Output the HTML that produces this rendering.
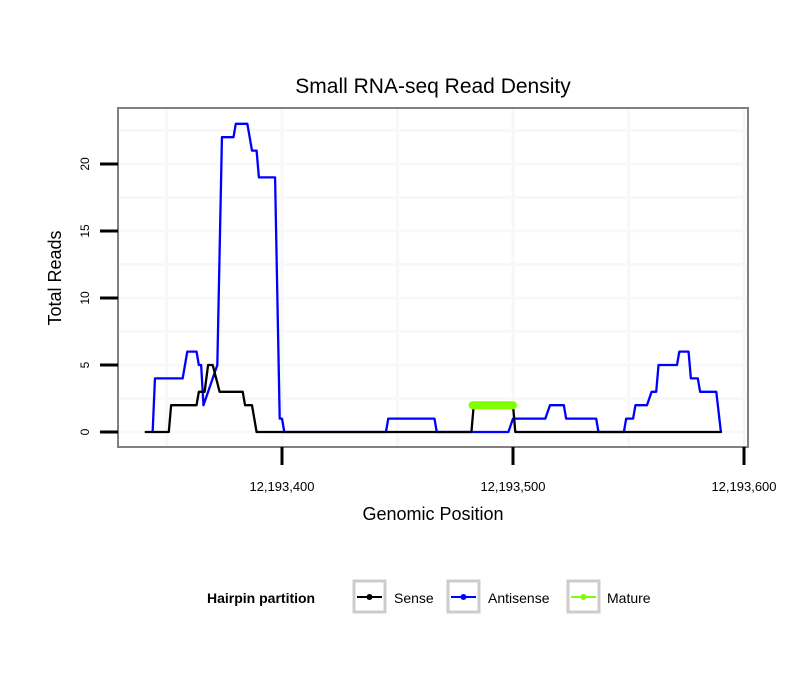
<!DOCTYPE html>
<html><head><meta charset="utf-8"><style>
body{margin:0;background:#fff;font-family:"Liberation Sans",sans-serif}
</style></head><body>
<svg id="chart" width="810" height="690" xmlns="http://www.w3.org/2000/svg" font-family="Liberation Sans, sans-serif">
<rect width="810" height="690" fill="#fff"/>
<text x="433" y="93" font-size="21" text-anchor="middle">Small RNA-seq Read Density</text>
<g id="grid"></g>
<g id="series"></g>
<rect x="118" y="108" width="630" height="339" fill="none" stroke="#808080" stroke-width="2"/>
<g id="axes"></g>
<text x="433" y="520" font-size="18" text-anchor="middle">Genomic Position</text>
<text transform="translate(61,278) rotate(-90)" font-size="18" text-anchor="middle">Total Reads</text>
<g>
<text x="207" y="603" font-size="14" font-weight="bold">Hairpin partition</text>
<g>
<rect x="354" y="581" width="31" height="31" fill="#fff" stroke="#ccc" stroke-width="3"/>
<line x1="357" y1="597" x2="382" y2="597" stroke="#000" stroke-width="2"/><circle cx="369.5" cy="597" r="3" fill="#000"/>
<text x="394" y="603" font-size="14">Sense</text></g>
<g>
<rect x="448" y="581" width="31" height="31" fill="#fff" stroke="#ccc" stroke-width="3"/>
<line x1="451" y1="597" x2="476" y2="597" stroke="#0000ff" stroke-width="2"/><circle cx="463.5" cy="597" r="3" fill="#0000ff"/>
<text x="488" y="603" font-size="14">Antisense</text></g>
<g>
<rect x="568" y="581" width="31" height="31" fill="#fff" stroke="#ccc" stroke-width="3"/>
<line x1="571" y1="597" x2="596" y2="597" stroke="#7fff00" stroke-width="2"/><circle cx="583.5" cy="597" r="3" fill="#7fff00"/>
<text x="607" y="603" font-size="14">Mature</text></g>
</g>
</svg>
<script>
const xBase = 12193400;
const xTicks = [0, 100, 200];
const xTickLabels = ["12,193,400", "12,193,500", "12,193,600"];
const yTicks = [0, 5, 10, 15, 20];
const antisensePos = [-56,-55,-43,-41,-37,-36,-35,-34,-28,-26,-21,-20,-15,-13,-11,-10,-3,-1,0,1,45,46,66,67,98,100,114,116,122,123,136,137,148,149,152,153,158,160,162,163,171,172,176,177,180,181,188,190];
const antisenseVal = [0,4,4,6,6,5,5,2,5,22,22,23,23,21,21,19,19,1,1,0,0,1,1,0,0,1,1,2,2,1,1,0,0,1,1,2,2,3,3,5,5,6,6,4,4,3,3,0];
const sensePos = [-59,-49,-48,-37,-36,-33.5,-32,-30,-28.5,-27,-17,-16,-13,-11,82,83,100,101,190];
const senseVal = [0,0,2,2,3,3,5,5,4,3,3,2,2,0,0,2,2,0,0];
const maturePos = [82.5, 100];
const matureVal = [2, 2];

const xs = v => 282 + v * 2.31;
const ys = v => 432 - v * 13.4;
const NS = "http://www.w3.org/2000/svg";
function mk(tag, attrs, parent){const e=document.createElementNS(NS,tag);for(const k in attrs)e.setAttribute(k,attrs[k]);parent.appendChild(e);return e;}
const grid=document.getElementById('grid'), series=document.getElementById('series'), axes=document.getElementById('axes');
for(let v=-50; v<=200; v+=50){
  const x=xs(v); if(x<118||x>748) continue;
  const l=mk('line',{x1:x,x2:x,y1:109,y2:446,stroke:'#f7f7f7','stroke-width':3},grid);
  
  
}
for(let v=0; v<=25; v+=2.5){
  const y=ys(v); if(y<108||y>447) continue;
  const l=mk('line',{x1:119,x2:747,y1:y,y2:y,stroke:'#f8f8f8','stroke-width':3},grid);
  
  
}
function path(pos,val,color,w,name){
  const d=pos.map((p,i)=>(i?'L':'M')+xs(p)+','+ys(val[i])).join('');
  const e=mk('path',{d:d,fill:'none',stroke:color,'stroke-width':w,'stroke-linejoin':'round','stroke-linecap':'round'},series);
  
  
}
path(antisensePos,antisenseVal,'#0000ff',2.3,'antisense-line');
path(sensePos,senseVal,'#000',2.3,'sense-line');
path(maturePos,matureVal,'#7fff00',8,'mature-line');
yTicks.forEach(v=>{
  const y=ys(v);
  const t=mk('line',{x1:100,x2:118,y1:y,y2:y,stroke:'#000','stroke-width':3},axes);
  
  
  const tx=mk('text',{transform:`translate(89,${y}) rotate(-90)`,'font-size':12,'text-anchor':'middle'},axes);
  tx.textContent=v;
  
  
});
xTicks.forEach((v,i)=>{
  const x=xs(v);
  const t=mk('line',{x1:x,x2:x,y1:447,y2:465,stroke:'#000','stroke-width':3},axes);
  
  
  const tx=mk('text',{x:x,y:491,'font-size':13,'text-anchor':'middle'},axes);
  tx.textContent=xTickLabels[i];
  
  
});
</script>
</body></html>
